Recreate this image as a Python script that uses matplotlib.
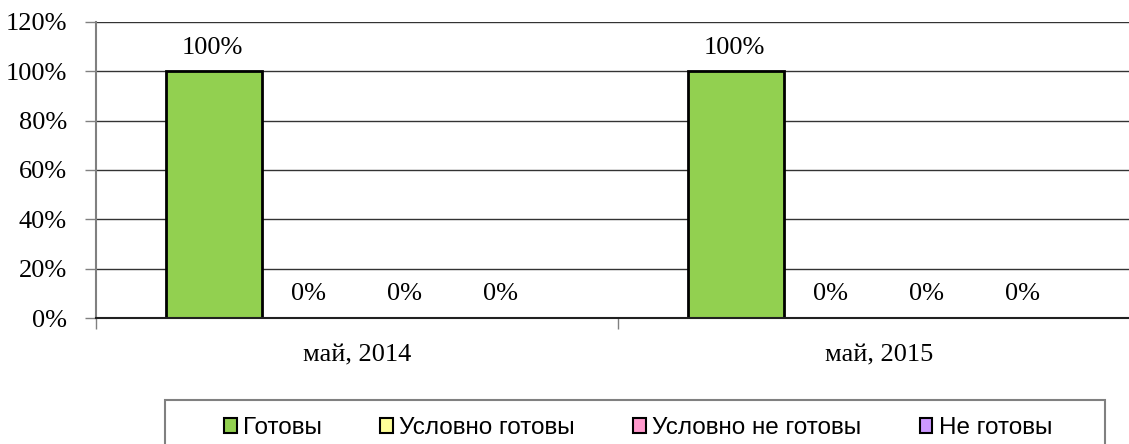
import matplotlib
matplotlib.use("Agg")
import matplotlib.pyplot as plt
from matplotlib.patches import Patch, Rectangle
import numpy as np

categories = ["май, 2014", "май, 2015"]
series_names = ["Готовы", "Условно готовы", "Условно не готовы", "Не готовы"]
series_values = [
    [100, 100],
    [0, 0],
    [0, 0],
    [0, 0],
]
colors = ["#92D050", "#FFFF99", "#FF99CC", "#CC99FF"]
y_ticks = [0, 20, 40, 60, 80, 100, 120]

W, H = 1129, 444
fig = plt.figure(figsize=(W / 100, H / 100), dpi=100)
ax = fig.add_axes([96 / W, (H - 318) / H, 1044 / W, 296 / H])

serif = ["Liberation Serif", "DejaVu Serif"]
sans = ["Liberation Sans", "DejaVu Sans"]
FS = 19

x = np.arange(len(categories))
bw = 0.184
for i, (name, vals) in enumerate(zip(series_names, series_values)):
    pos = x + (i - 1.5) * bw + 0.002
    ax.bar(pos, vals, width=bw, color=colors[i], edgecolor="black", linewidth=2, zorder=3)
    for px, v in zip(pos, vals):
        ax.annotate(f"{v}%", (px, v), xytext=(-1, 17), textcoords="offset points",
                    ha="center", va="center", fontsize=FS, family=serif, zorder=4)

ax.set_xlim(-0.5, 1.5)
ax.set_ylim(0, 120)
ax.set_yticks(y_ticks)
ax.set_yticklabels([f"{t}%" for t in y_ticks], fontsize=FS, family=serif)
ax.yaxis.grid(True, color="#333333", linewidth=1, zorder=0)
ax.tick_params(axis="y", length=8, width=1, color="#808080", pad=13, direction="out")

ax.set_xticks(x)
ax.set_xticklabels(categories, fontsize=FS, family=serif)
ax.tick_params(axis="x", which="major", length=0, pad=19)
ax.set_xticks([-0.5, 0.5, 1.5], minor=True)
ax.tick_params(axis="x", which="minor", length=8, width=1, color="#808080", direction="out")

for s in ["top", "right"]:
    ax.spines[s].set_visible(False)
ax.spines["left"].set_color("#808080")
ax.spines["left"].set_linewidth(1.5)
ax.spines["bottom"].set_color("#202020")
ax.spines["bottom"].set_linewidth(1.5)
ax.spines["bottom"].set_zorder(5)

# legend frame (extends past the bottom of the image, as in the reference)
frame = Rectangle((165 / W, -0.05), 940 / W, (H - 400) / H + 0.05,
                  transform=fig.transFigure, facecolor="white",
                  edgecolor="#808080", linewidth=1.5, zorder=0)
fig.patches.append(frame)

handles = [Patch(facecolor=c, edgecolor="black", linewidth=1.5) for c in colors]
leg = fig.legend(handles, series_names, loc="center", ncol=4,
                 bbox_to_anchor=(638 / W, 1 - 428 / H),
                 bbox_transform=fig.transFigure, borderaxespad=0,
                 frameon=False, prop={"family": sans, "size": 17.5},
                 handlelength=0.53, handleheight=0.53, handletextpad=0.25,
                 columnspacing=2.4, borderpad=0)

fig.savefig("out.png", dpi=100)
